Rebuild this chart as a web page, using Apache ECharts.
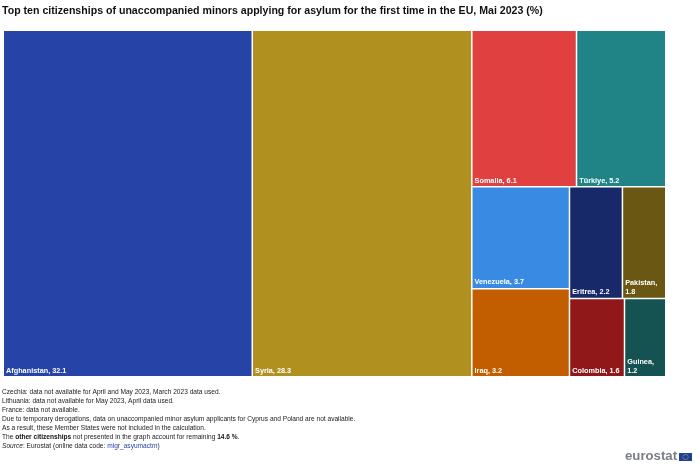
<!DOCTYPE html>
<html lang="en">
<head>
    <meta charset="UTF-8">
    <title>Unaccompanied minors</title>
    <style>
        html, body { margin: 0; padding: 0; background: #fff; }
        #chart { width: 700px; height: 467px; }
    </style>
</head>
<body>
<div id="chart"></div>
<script src="https://cdn.jsdelivr.net/npm/echarts@6/dist/echarts.min.js"></script>
<script>
    const countries = ['Afghanistan', 'Syria', 'Somalia', 'Türkiye', 'Venezuela', 'Iraq', 'Eritrea', 'Pakistan', 'Colombia', 'Guinea'];
    const shares = [32.1, 28.3, 6.1, 5.2, 3.7, 3.2, 2.2, 1.8, 1.6, 1.2];
    const colours = ['#2644a7', '#b09120', '#e04040', '#208486', '#388ae2', '#c25e00', '#172968', '#6a5713', '#911818', '#155252'];
    const titleText = 'Top ten citizenships of unaccompanied minors applying for asylum for the first time in the EU, Mai 2023 (%)';
    const notes = [
        'Czechia: data not available for April and May 2023, March 2023 data used.',
        'Lithuania: data not available for May 2023, April data used.',
        'France: data not available.',
        'Due to temporary derogations, data on unaccompanied minor asylum applicants for Cyprus and Poland are not available.',
        'As a result, these Member States were not included in the calculation.',
        'The {b|other citizenships} not presented in the graph account for remaining {b|14.6 %}.',
        '{i|Source}: Eurostat (online data code: {l|migr_asyumactm})'
    ];

    const chart = echarts.init(document.getElementById('chart'), null, { renderer: 'canvas' });

    // eu flag stars
    const stars = [];
    for (let i = 0; i < 12; i++) {
        const a = i / 12 * Math.PI * 2;
        stars.push({
            type: 'circle',
            shape: { cx: 685.5 + Math.cos(a) * 2.6, cy: 457 + Math.sin(a) * 2.6, r: 0.4 },
            style: { fill: '#ffe14d' }
        });
    }

    chart.setOption({
        animation: false,
        title: {
            text: titleText,
            left: 2, top: 6, padding: 0,
            textStyle: { fontFamily: 'Liberation Sans', fontSize: 10.6, fontWeight: 'bold', color: '#111' }
        },
        series: [{
            type: 'treemap',
            left: 4, top: 31, width: 661, height: 345,
            roam: false,
            nodeClick: false,
            breadcrumb: { show: false },
            squareRatio: 1.35,
            itemStyle: { gapWidth: 1.5, borderWidth: 0, borderColor: '#fff' },
            label: {
                show: true,
                position: 'insideBottomLeft',
                formatter: '{b}, {c}',
                overflow: 'break',
                padding: [0, 2, 1, 2],
                lineHeight: 9,
                fontFamily: 'Liberation Sans',
                fontSize: 7.3,
                fontWeight: 'bold',
                color: '#fff'
            },
            data: countries.map((name, i) => ({
                name,
                value: shares[i],
                itemStyle: { color: colours[i] }
            }))
        }],
        graphic: [
            {
                type: 'text', left: 2, top: 388,
                style: {
                    text: notes.join('\n'),
                    font: '6.6px "Liberation Sans"',
                    fill: '#222',
                    lineHeight: 9,
                    rich: {
                        b: { font: 'bold 6.6px "Liberation Sans"', fill: '#111', lineHeight: 9 },
                        i: { font: 'italic 6.6px "Liberation Sans"', fill: '#222', lineHeight: 9 },
                        l: { font: '6.6px "Liberation Sans"', fill: '#2644a7', lineHeight: 9 }
                    }
                }
            },
            {
                type: 'text', left: 625, top: 450,
                style: { text: 'eurostat', font: 'bold 13.2px "Liberation Sans"', fill: '#7b7f85' }
            },
            { type: 'rect', shape: { x: 679, y: 453, width: 13, height: 8 }, style: { fill: '#1f3f97' } },
            ...stars
        ]
    });
</script>
</body>
</html>
